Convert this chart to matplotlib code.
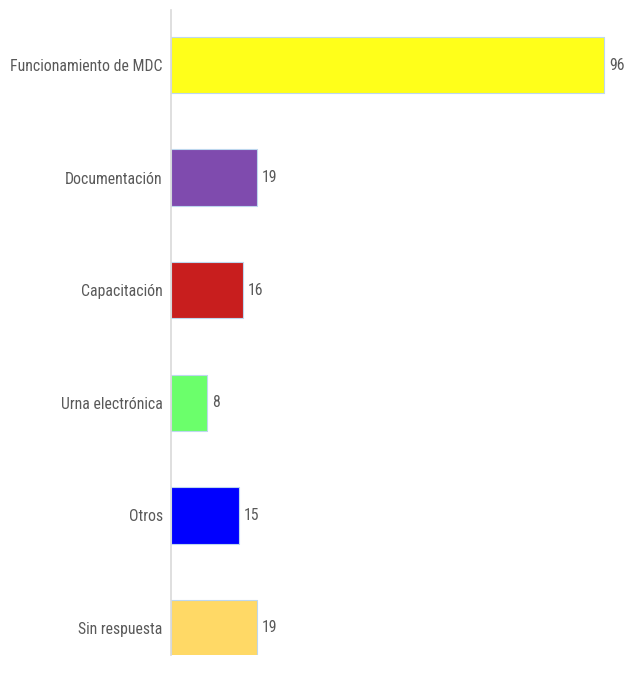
import matplotlib
matplotlib.use("Agg")
import matplotlib.pyplot as plt
from matplotlib import font_manager

categories = ["Funcionamiento de MDC", "Documentación", "Capacitación",
              "Urna electrónica", "Otros", "Sin respuesta"]
values = [96, 19, 16, 8, 15, 19]
colors = ["#FFFF1A", "#7F4BAE", "#C81E1E", "#6BFF6B", "#0000FF", "#FFD966"]

names = {f.name for f in font_manager.fontManager.ttflist}
fam = next((n for n in ["Roboto Condensed", "PT Sans Narrow", "Archivo Narrow"] if n in names), "DejaVu Sans")
plt.rcParams['font.family'] = [fam, 'DejaVu Sans']
plt.rcParams['font.weight'] = 'normal'
FS = 11.3

fig = plt.figure(figsize=(6.24, 6.81), dpi=100)
ax = fig.add_axes([171/624, 1-655/681, 446.6/624, 645/681])

pos = list(range(len(categories)))
ax.barh(pos, values, height=0.5, color=colors, edgecolor="#BDD7EE", linewidth=0.8)
ax.set_ylim(5 + 27/112.6, -55/112.6)
ax.set_xlim(0, 99)
ax.set_yticks(pos)
ax.set_yticklabels(categories, fontsize=FS, color="#595959", fontweight='normal')
ax.tick_params(axis='y', length=0, pad=6)
ax.set_xticks([])
for s in ["top", "right", "bottom"]:
    ax.spines[s].set_visible(False)
ax.spines["left"].set_color("#D9D9D9")
ax.spines["left"].set_linewidth(1.2)
for p, v in zip(pos, values):
    ax.text(v + 1.1, p, str(v), va="center", ha="left", fontsize=FS, color="#595959", fontweight='normal')

fig.savefig("out.png", dpi=100)
